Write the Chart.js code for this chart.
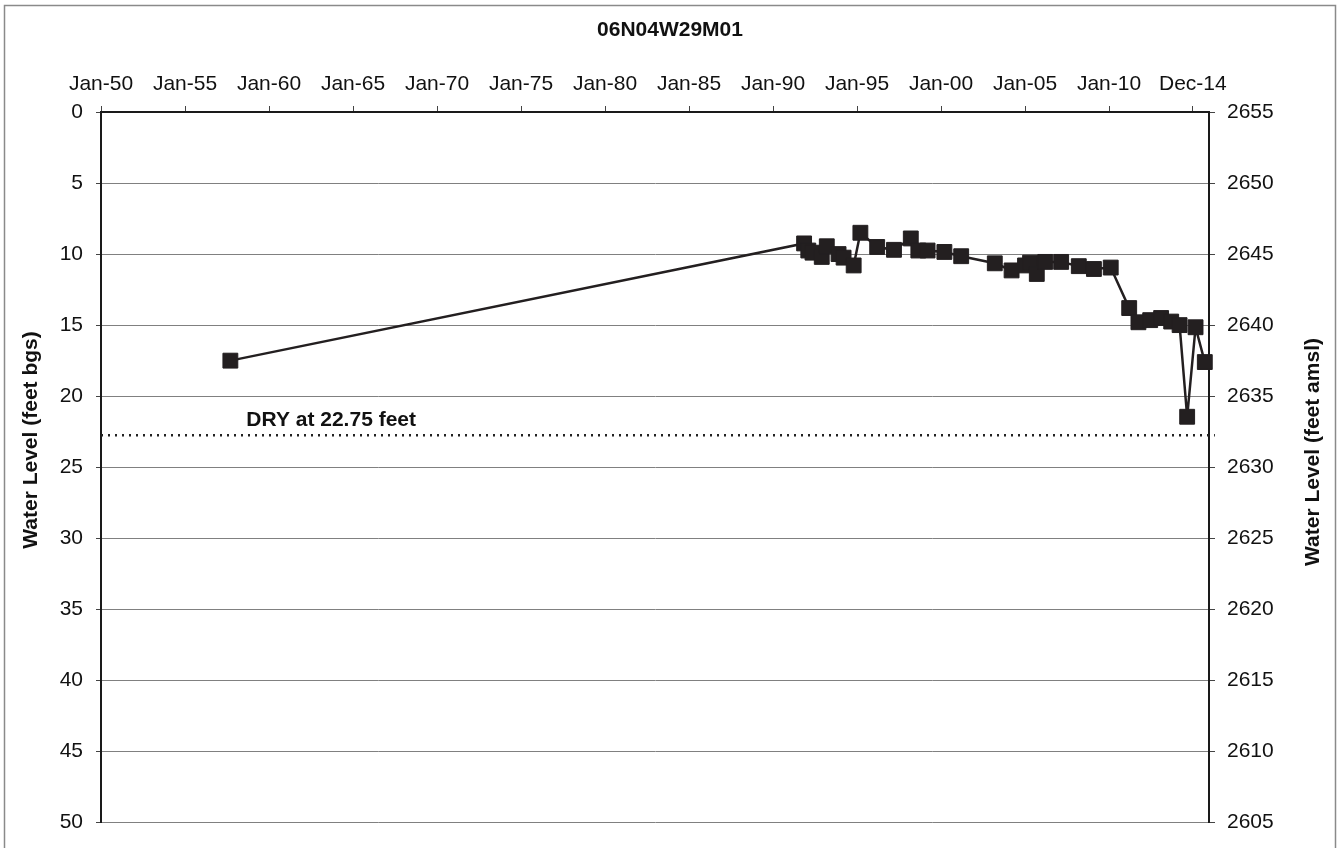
<!DOCTYPE html>
<html>
<head>
<meta charset="utf-8">
<script src="https://cdn.jsdelivr.net/npm/chart.js@4.4.0/dist/chart.umd.min.js"></script>
<style>
  html, body { margin: 0; padding: 0; background: #fff; }
  #wrap { position: relative; width: 1340px; height: 848px; }
</style>
</head>
<body>
<div id="wrap"><canvas id="myChart"></canvas></div>
<script>
var chartTitle = '06N04W29M01';
var leftTitle = 'Water Level (feet bgs)';
var rightTitle = 'Water Level (feet amsl)';
var dryText = 'DRY at 22.75 feet';
var dryLevel = 22.75;

// measurement dates (decimal years) and depth to water (feet bgs)
var dateYears = [1957.7, 1991.85, 1992.1, 1992.35, 1992.9, 1993.2, 1993.9, 1994.2, 1994.8,
  1995.2, 1996.2, 1997.2, 1998.2, 1998.65, 1999.2, 2000.2, 2001.2, 2003.2, 2004.2,
  2005.0, 2005.3, 2005.7, 2006.2, 2007.15, 2008.2, 2009.1, 2010.1, 2011.2, 2011.75,
  2012.45, 2013.1, 2013.7, 2014.2, 2014.65, 2015.15, 2015.7];
var depthFeet = [17.5, 9.25, 9.75, 9.9, 10.2, 9.45, 10.0, 10.25, 10.8,
  8.5, 9.5, 9.7, 8.9, 9.75, 9.75, 9.85, 10.15, 10.65, 11.15,
  10.8, 10.6, 11.4, 10.55, 10.55, 10.85, 11.05, 10.95, 13.8, 14.8,
  14.65, 14.5, 14.75, 15.0, 21.45, 15.15, 17.6];

var tickYears = [1950, 1955, 1960, 1965, 1970, 1975, 1980, 1985, 1990, 1995, 2000, 2005, 2010, 2014.99];
var tickLabels = ['Jan-50', 'Jan-55', 'Jan-60', 'Jan-65', 'Jan-70', 'Jan-75', 'Jan-80', 'Jan-85',
  'Jan-90', 'Jan-95', 'Jan-00', 'Jan-05', 'Jan-10', 'Dec-14'];
var xMin = 1950, xMax = 2015.95;
var depthMin = 0, depthMax = 50;
var elevMin = 2605, elevMax = 2655;

var fontFam = "'Liberation Sans', Arial, sans-serif";
var ink = '#231f20';

var extraText = {
  id: 'extraText',
  afterDraw: function(chart) {
    var c = chart.ctx;
    var sx = chart.scales.x, sy = chart.scales.y;
    c.save();
    c.strokeStyle = '#8a8a8a';
    c.lineWidth = 1.5;
    c.strokeRect(4.5, 5.5, 1331, 900);
    c.fillStyle = '#111';
    c.textAlign = 'center';
    c.textBaseline = 'middle';
    c.font = 'bold 21px ' + fontFam;
    c.fillText(chartTitle, 670, 30);
    c.fillText(dryText, sx.getPixelForValue(1963.7), sy.getPixelForValue(dryLevel) - 15);
    c.translate(31, 440);
    c.rotate(-Math.PI / 2);
    c.fillText(leftTitle, 0, 0);
    c.restore();
    c.save();
    c.fillStyle = '#111';
    c.textAlign = 'center';
    c.textBaseline = 'middle';
    c.font = 'bold 21px ' + fontFam;
    c.translate(1313, 452);
    c.rotate(-Math.PI / 2);
    c.fillText(rightTitle, 0, 0);
    c.restore();
  }
};

var ctx = document.getElementById('myChart').getContext('2d');

var myChart = new Chart(ctx, {
  type: 'line',
  data: {
    datasets: [{
      data: dateYears.map(function(v, i) { return { x: v, y: depthFeet[i] }; }),
      borderColor: ink,
      backgroundColor: ink,
      borderWidth: 2.5,
      pointStyle: 'rect',
      pointRadius: 10.5,
      pointBorderWidth: 1,
      pointHoverRadius: 10.5,
      tension: 0,
      clip: false,
      yAxisID: 'y'
    }, {
      data: [{ x: xMin, y: dryLevel }, { x: 2016.3, y: dryLevel }],
      borderColor: '#222',
      borderWidth: 2.5,
      borderDash: [2, 5],
      pointRadius: 0,
      clip: false,
      yAxisID: 'y'
    }]
  },
  options: {
    responsive: true,
    maintainAspectRatio: false,
    animation: false,
    layout: { padding: { top: 0, left: 0, right: 0, bottom: 23 } },
    plugins: {
      legend: { display: false },
      tooltip: { enabled: false },
      title: { display: false }
    },
    events: [],
    scales: {
      x: {
        type: 'linear',
        position: 'top',
        min: xMin,
        max: xMax,
        afterBuildTicks: function(scale) {
          scale.ticks = tickYears.map(function(v) { return { value: v }; });
        },
        afterFit: function(scale) { scale.height = 112; },
        ticks: {
          autoSkip: false,
          maxRotation: 0,
          padding: 9,
          color: '#111',
          font: { family: fontFam, size: 21 },
          callback: function(value, index) { return tickLabels[index]; }
        },
        grid: { drawOnChartArea: false, tickLength: 6, tickColor: '#444', tickWidth: 1 },
        border: { color: '#1a1a1a', width: 2 }
      },
      y: {
        position: 'left',
        reverse: true,
        min: depthMin,
        max: depthMax,
        afterFit: function(scale) { scale.width = 101; },
        ticks: {
          stepSize: 5,
          padding: 13,
          color: '#111',
          font: { family: fontFam, size: 21 }
        },
        grid: { color: '#808080', lineWidth: 1, tickLength: 5, tickColor: '#444' },
        border: { color: '#1a1a1a', width: 2 }
      },
      y2: {
        position: 'right',
        min: elevMin,
        max: elevMax,
        afterFit: function(scale) { scale.width = 131; },
        ticks: {
          stepSize: 5,
          padding: 12,
          color: '#111',
          font: { family: fontFam, size: 21 },
          callback: function(value) { return String(value); }
        },
        grid: { drawOnChartArea: false, tickLength: 6, tickColor: '#444' },
        border: { color: '#1a1a1a', width: 2 }
      }
    }
  },
  plugins: [extraText]
});
</script>
</body>
</html>
